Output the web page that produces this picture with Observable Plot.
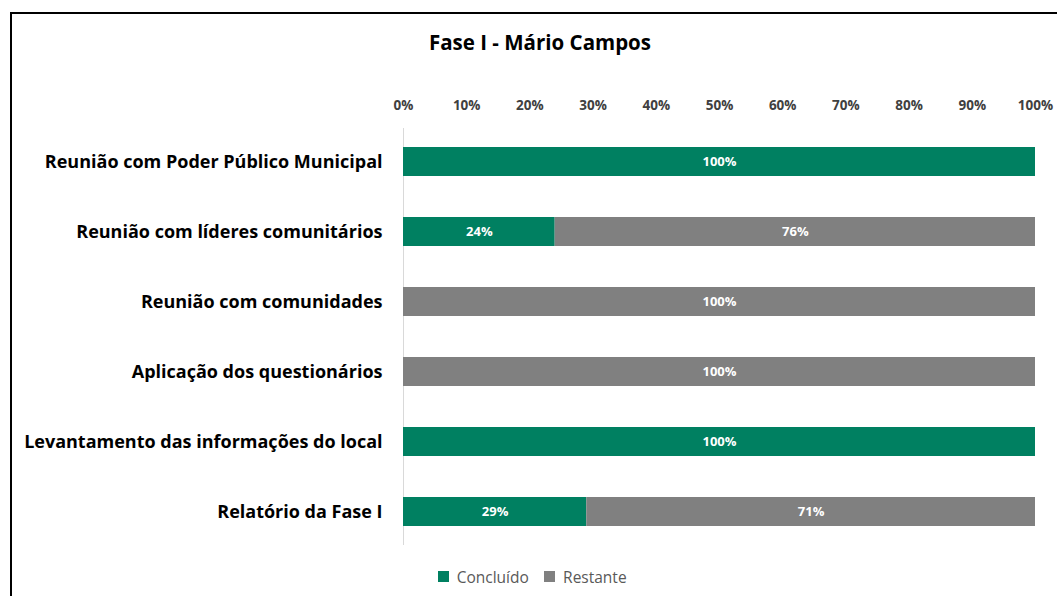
<!DOCTYPE html>
<html>
<head>
<meta charset="utf-8">
<script src="https://cdn.jsdelivr.net/npm/d3@7"></script>
<script src="https://cdn.jsdelivr.net/npm/@observablehq/plot@0.6"></script>
<style>
  body { margin: 0; background: #fff; font-family: "Open Sans", sans-serif; }
  #wrap { position: relative; width: 1057px; height: 596px; overflow: hidden; background: #fff; }
  #frame { position: absolute; left: 10px; top: 12px; width: 1100px; height: 700px; border: 2px solid #000; box-sizing: border-box; }
  #title { position: absolute; left: 0; top: 28px; width: 1080px; text-align: center; font: bold 20.5px "Open Sans", sans-serif; color: #000; line-height: 28px; }
  #chart { position: absolute; left: 0; top: 70px; }
  #legend { position: absolute; left: 0; top: 560px; width: 1080px; display: flex; justify-content: center; }
</style>
</head>
<body>
<div id="wrap">
  <div id="frame"></div>
  <div id="title">Fase I - Mário Campos</div>
  <div id="chart"></div>
  <div id="legend"></div>
</div>
<script>
const categories = [
  "Reunião com Poder Público Municipal",
  "Reunião com líderes comunitários",
  "Reunião com comunidades",
  "Aplicação dos questionários",
  "Levantamento das informações do local",
  "Relatório da Fase I"
];
const series = ["Concluído", "Restante"];
const concluido = [100, 24, 0, 0, 100, 29];
const restante = [0, 76, 100, 100, 0, 71];
const xTicks = [0, 10, 20, 30, 40, 50, 60, 70, 80, 90, 100];
const colors = ["#008061", "#808080"];

const data = [];
categories.forEach((c, i) => {
  data.push({cat: c, serie: series[0], value: concluido[i]});
  data.push({cat: c, serie: series[1], value: restante[i]});
});
const nonZero = data.filter(d => d.value > 0);

const chart = Plot.plot({
  width: 1057,
  height: 490,
  marginLeft: 403,
  marginRight: 22,
  marginTop: 58,
  marginBottom: 15,
  style: { fontFamily: "'Open Sans', sans-serif", background: "transparent" },
  x: { domain: [0, 100] },
  y: { domain: categories, paddingInner: 0.586, paddingOuter: 0.2675 },
  color: { domain: series, range: colors },
  marks: [
    Plot.ruleX([0], { stroke: "#d9d9d9", strokeWidth: 1 }),
    Plot.barX(nonZero, { x: "value", y: "cat", fill: "serie", order: series }),
    Plot.text(nonZero, Plot.stackX({
      x: "value", y: "cat", z: "serie", order: series,
      text: d => d.value + "%",
      fill: "white", fontWeight: "bold", fontSize: 13
    })),
    Plot.axisX({
      anchor: "top", ticks: xTicks, tickSize: 0, tickPadding: 19,
      tickFormat: d => d + "%", fontSize: 13.5, fontWeight: "bold", fill: "#404040", label: null
    }),
    Plot.axisY({
      anchor: "left", tickSize: 0, tickPadding: 21, fontSize: 18, fontWeight: "bold",
      fill: "#000", label: null
    })
  ]
});
document.getElementById("chart").appendChild(chart);

const legend = Plot.legend({
  color: { domain: series, range: colors },
  swatchSize: 11,
  style: { fontFamily: "'Open Sans', sans-serif", fontSize: "15.5px", color: "#595959" }
});
document.getElementById("legend").appendChild(legend);
</script>
</body>
</html>
